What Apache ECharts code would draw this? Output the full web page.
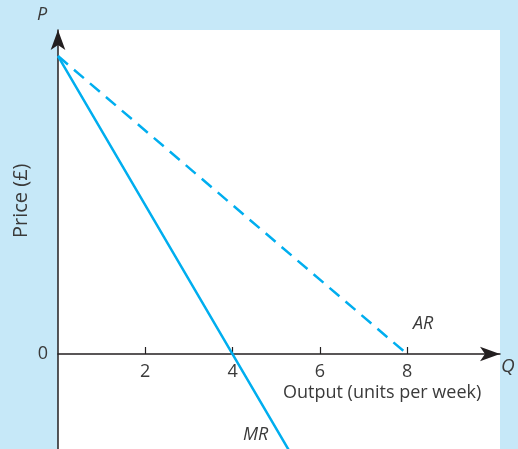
<!DOCTYPE html>
<html>
<head>
<meta charset="utf-8">
<script src="https://cdn.jsdelivr.net/npm/echarts@6/dist/echarts.min.js"></script>
<style>
  html, body { margin: 0; padding: 0; background: #c6e8f8; }
  #chart { width: 518px; height: 449px; }
</style>
</head>
<body>
<div id="chart"></div>
<script>
// Demand (average revenue) and marginal revenue for a linear demand curve
const outputTicks = [2, 4, 6, 8];
const priceTicks = [0];
const arQ = [0, 8];
const arP = [8, 0];
const mrQ = [0, 4, 6];
const mrP = [8, 0, -4];

const FONT = '"Open Sans", Lato, sans-serif';
const TEXT = '#3a3a3a';
const BLUE = '#00aeef';
const AXIS = '#231f20';

const GRID = { left: 58, right: 18, top: 30, bottom: 0 };
const P_MIN = -2.55, P_MAX = 8.7;
const plotH = 449 - GRID.top - GRID.bottom;
// lift the quantity axis (line, ticks and labels) up to the price = 0 level
const zeroLift = -(0 - P_MIN) / (P_MAX - P_MIN) * plotH;

const chart = echarts.init(document.getElementById('chart'), null, { renderer: 'canvas' });

chart.setOption({
  backgroundColor: '#c6e8f8',
  animation: false,
  grid: Object.assign({
    containLabel: false, outerBoundsMode: 'none',
    show: true, backgroundColor: '#ffffff', borderWidth: 0
  }, GRID),
  xAxis: {
    type: 'value', min: 0, max: 10.13,
    offset: zeroLift,
    splitLine: { show: false },
    axisLine: { onZero: false, lineStyle: { color: AXIS, width: 1.5 },
      symbol: ['none', 'arrow'], symbolSize: [11, 20] },
    axisTick: { show: true, inside: true, length: 7, customValues: outputTicks,
      lineStyle: { color: AXIS, width: 1.2 } },
    axisLabel: { customValues: outputTicks, margin: 9, color: TEXT, fontSize: 18, fontFamily: FONT }
  },
  yAxis: {
    type: 'value', min: P_MIN, max: P_MAX,
    splitLine: { show: false },
    axisLine: { lineStyle: { color: AXIS, width: 1.5 },
      symbol: ['none', 'arrow'], symbolSize: [11, 20] },
    axisTick: { show: false },
    axisLabel: { customValues: priceTicks, margin: 10, color: TEXT, fontSize: 18, fontFamily: FONT }
  },
  series: [
    {
      name: 'AR', type: 'line', symbol: 'none', clip: true,
      data: arQ.map((q, i) => [q, arP[i]]),
      lineStyle: { color: BLUE, width: 2.5, type: [13, 8] }
    },
    {
      name: 'MR', type: 'line', symbol: 'none', clip: true,
      data: mrQ.map((q, i) => [q, mrP[i]]),
      lineStyle: { color: BLUE, width: 2.5 }
    }
  ],
  graphic: [
    { type: 'text', left: 37, top: 6,
      style: { text: 'P', font: 'italic 18px ' + FONT, fill: TEXT } },
    { type: 'text', left: 501, top: 357,
      style: { text: 'Q', font: 'italic 19px ' + FONT, fill: TEXT } },
    { type: 'text', left: 413, top: 315,
      style: { text: 'AR', font: 'italic 18px ' + FONT, fill: TEXT } },
    { type: 'text', left: 243, top: 426,
      style: { text: 'MR', font: 'italic 18px ' + FONT, fill: TEXT } },
    { type: 'text', left: 283, top: 384,
      style: { text: 'Output (units per week)', font: '18px ' + FONT, fill: TEXT } },
    { type: 'text', x: 11, y: 238, rotation: Math.PI / 2,
      style: { text: 'Price (£)', font: '20px ' + FONT, fill: TEXT } }
  ]
});
</script>
</body>
</html>
